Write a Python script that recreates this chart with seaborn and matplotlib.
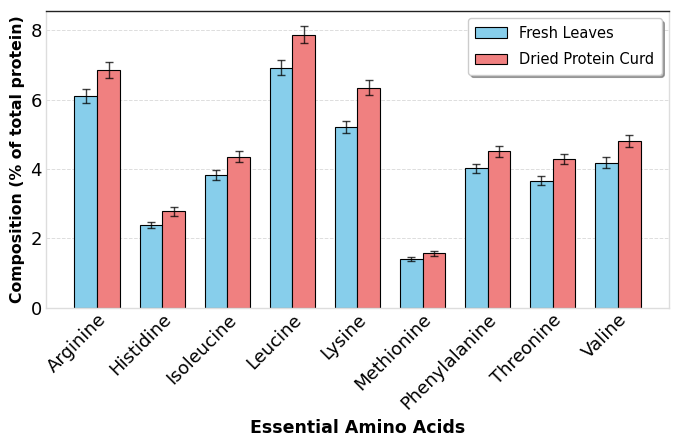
import numpy as np
import pandas as pd
import matplotlib
matplotlib.use("Agg")
import matplotlib.pyplot as plt
import seaborn as sns

amino_acids = ["Arginine", "Histidine", "Isoleucine", "Leucine", "Lysine",
               "Methionine", "Phenylalanine", "Threonine", "Valine"]
fresh_values = [6.11, 2.39, 3.83, 6.93, 5.22, 1.41, 4.02, 3.67, 4.18]
dried_values = [6.86, 2.78, 4.36, 7.88, 6.35, 1.57, 4.51, 4.29, 4.81]
fresh_err = [0.19, 0.09, 0.14, 0.21, 0.17, 0.06, 0.14, 0.12, 0.16]
dried_err = [0.22, 0.12, 0.16, 0.25, 0.21, 0.08, 0.16, 0.14, 0.18]
series_names = ["Fresh Leaves", "Dried Protein Curd"]
colors = ["#87CEEB", "#F08080"]

df = pd.DataFrame({
    "Amino Acid": amino_acids * 2,
    "Value": fresh_values + dried_values,
    "Err": fresh_err + dried_err,
    "Sample": [series_names[0]] * len(amino_acids) + [series_names[1]] * len(amino_acids),
})

sns.set_theme(style="whitegrid")
plt.rcParams['font.family'] = ['DejaVu Sans']
plt.rcParams['text.color'] = 'black'
plt.rcParams['axes.labelcolor'] = 'black'
plt.rcParams['xtick.color'] = 'black'
plt.rcParams['ytick.color'] = 'black'

fig, ax = plt.subplots(figsize=(6.79, 4.41), dpi=100)
sns.barplot(data=df, x="Amino Acid", y="Value", hue="Sample", palette=colors,
            errorbar=None, width=0.7, edgecolor="black", linewidth=0.8,
            saturation=1, ax=ax)

# error bars at bar centers
for cont, errs in zip(ax.containers, [fresh_err, dried_err]):
    xs = [p.get_x() + p.get_width() / 2 for p in cont.patches]
    ys = [p.get_height() for p in cont.patches]
    ax.errorbar(xs, ys, yerr=errs, fmt="none", ecolor="black", elinewidth=1,
                capsize=3, capthick=1, alpha=0.75)

ax.set_ylim(0, 8.56)
ax.set_xlim(-0.785, 8.785)
ax.set_yticks([0, 2, 4, 6, 8])
ax.grid(axis="y", linestyle="--", color="#dddddd", linewidth=0.7)
ax.grid(axis="x", visible=False)
ax.set_xlabel("Essential Amino Acids", fontsize=12.5, fontweight="bold", labelpad=4)
ax.set_ylabel("Composition (% of total protein)", fontsize=11.3, fontweight="bold")
ax.tick_params(axis="y", labelsize=13, length=0, pad=3)
ax.tick_params(axis="x", labelsize=13, length=0, pad=2)
plt.setp(ax.get_xticklabels(), rotation=45, ha="right", rotation_mode="anchor")

for s in ["left", "right", "bottom"]:
    ax.spines[s].set_color("#dddddd")
    ax.spines[s].set_linewidth(1)
ax.spines["top"].set_color("#222222")
ax.spines["top"].set_linewidth(1)

leg = ax.legend(loc="upper right", fontsize=10.5, frameon=True, shadow=True,
                fancybox=True, framealpha=1, labelspacing=0.8,
                handlelength=2.2, borderpad=0.5)
leg.get_frame().set_edgecolor("#cccccc")

fig.subplots_adjust(left=0.068, right=0.985, top=0.975, bottom=0.302)
fig.savefig("out.png", dpi=100)
